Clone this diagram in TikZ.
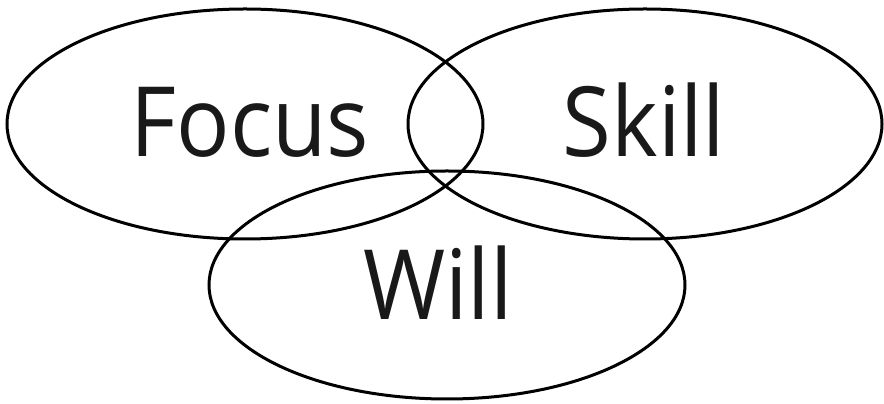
\documentclass[tikz,border=0pt]{standalone}
\usepackage{fontspec}
\setmainfont{Open Sans}
\usetikzlibrary{positioning}

\begin{document}
\begin{tikzpicture}[
  x=1pt, y=1pt,
  set/.style={draw=black, line width=3pt},
  word/.style={anchor=base, inner sep=0pt, text=black!90, xscale=0.915,
               font=\fontsize{97}{97}\selectfont},
]

% ── Canvas ─────────────────────────────────────────────────────────
\useasboundingbox (0,0) rectangle (884,404);

% ── Ellipse centres ────────────────────────────────────────────────
\coordinate (cFocus) at (245,280);
\coordinate (cSkill) at (645,280);
\coordinate (cWill)  at (447,119);

% ── Three sets ─────────────────────────────────────────────────────
\draw[set] (cFocus) ellipse [x radius=238, y radius=115];
\draw[set] (cSkill) ellipse [x radius=237, y radius=115];
\draw[set] (cWill)  ellipse [x radius=238, y radius=114];

% ── Labels ─────────────────────────────────────────────────────────
\node[word] (focus) at (250,247) {Focus};
\node[word] (skill) at (644,247) {Skill};
\node[word] (will)  at (438,84)  {Will};

\end{tikzpicture}
\end{document}
